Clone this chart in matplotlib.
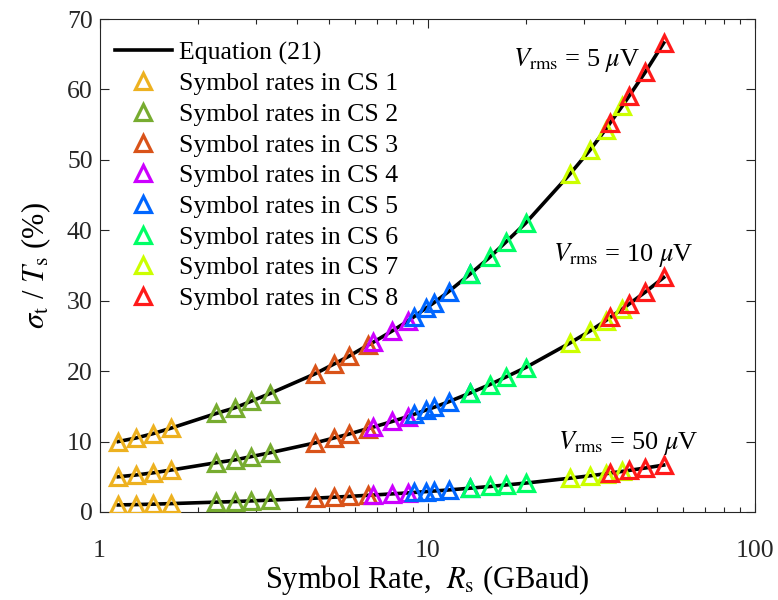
import numpy as np
import matplotlib
matplotlib.use('Agg')
import matplotlib.pyplot as plt

plt.rcParams['font.family'] = 'Liberation Serif'
plt.rcParams['mathtext.fontset'] = 'stix'

# symbol rates (GBaud) used in each channel spacing case
cs_rates = [
    [1.14, 1.29, 1.45, 1.65],
    [2.27, 2.59, 2.89, 3.30],
    [4.53, 5.18, 5.75, 6.58],
    [6.83, 7.80, 8.70],
    [9.08, 9.86, 10.45, 11.6, 13.5],
    [13.5, 15.5, 17.4, 19.9],
    [27.2, 31.3, 34.9, 39.2],
    [36.1, 41.1, 46.2, 52.5],
]

# sigma_t / T_s (%) at each rate, one list per Vrms
jitter_5uv = [
    [10.0, 10.5, 11.1, 11.9],
    [14.0, 14.8, 15.7, 16.8],
    [19.6, 21.0, 22.1, 23.7],
    [24.1, 25.7, 27.1],
    [27.7, 28.9, 29.7, 31.3, 33.8],
    [33.8, 36.2, 38.4, 41.0],
    [48.0, 51.4, 54.3, 57.6],
    [55.3, 59.0, 62.5, 66.6],
]
jitter_10uv = [
    [5.0, 5.25, 5.55, 5.95],
    [7.0, 7.4, 7.85, 8.4],
    [9.8, 10.5, 11.05, 11.85],
    [12.05, 12.85, 13.55],
    [13.85, 14.45, 14.85, 15.65, 16.9],
    [16.9, 18.1, 19.2, 20.5],
    [24.0, 25.7, 27.15, 28.8],
    [27.65, 29.5, 31.25, 33.3],
]
jitter_50uv = [
    [1.0, 1.05, 1.11, 1.19],
    [1.4, 1.48, 1.57, 1.68],
    [1.96, 2.1, 2.21, 2.37],
    [2.41, 2.57, 2.71],
    [2.77, 2.89, 2.97, 3.13, 3.38],
    [3.38, 3.62, 3.84, 4.1],
    [4.8, 5.14, 5.43, 5.76],
    [5.53, 5.9, 6.25, 6.66],
]

cs_labels = ['Symbol rates in CS %d' % (i + 1) for i in range(8)]
cs_colors = ['#EDB120', '#77AC30', '#D95319', '#CC00FF',
             '#0066FF', '#00FF66', '#CCFF00', '#FF1A1A']

vrms_labels = [r'$V_{\rm rms}$ = 5 $\mu$V', r'$V_{\rm rms}$ = 10 $\mu$V',
               r'$V_{\rm rms}$ = 50 $\mu$V']
label_pos = [(18.2, 63.3), (24.1, 35.6), (25.0, 9.0)]

fig = plt.figure(figsize=(7.78, 6.0), dpi=100)
ax = fig.add_axes([0.128, 0.1467, 0.843, 0.8216])

axis_col = '#262626'
curves = [jitter_5uv, jitter_10uv, jitter_50uv]

for n, curve in enumerate(curves):
    xs = np.concatenate([np.array(r) for r in cs_rates])
    ys = np.concatenate([np.array(v) for v in curve])
    order = np.argsort(xs, kind='stable')
    ax.plot(xs[order], ys[order], color='black', lw=2.6, zorder=2,
            label='Equation (21)' if n == 0 else None)

for n, curve in enumerate(curves):
    for i in range(8):
        ax.plot(cs_rates[i], curve[i], linestyle='none', marker='^',
                markersize=11.5, markerfacecolor='none', markeredgewidth=2.3,
                markeredgecolor=cs_colors[i], zorder=3,
                label=cs_labels[i] if n == 0 else None)

for txt, (x, y) in zip(vrms_labels, label_pos):
    ax.text(x, y, txt, fontsize=19, va='baseline', ha='left')

ax.set_xscale('log')
ax.set_xlim(1, 100)
ax.set_ylim(0, 70)
ax.set_yticks(range(0, 71, 10))
ax.set_xticks([1, 10, 100])
ax.set_xticklabels(['1', '10', '100'])

ax.tick_params(which='both', direction='in', top=True, right=True,
               colors=axis_col, labelsize=18.5)
ax.tick_params(which='major', length=6.5, width=0.8)
ax.tick_params(which='minor', length=3.5, width=0.8)
ax.tick_params(axis='x', pad=20)
ax.tick_params(axis='y', pad=5)
for sp in ax.spines.values():
    sp.set_color(axis_col)
    sp.set_linewidth(0.8)

ax.set_xlabel(r'Symbol Rate,  $R_{\rm s}$ (GBaud)', fontsize=22, labelpad=1)
ax.set_ylabel(r'$\sigma_{\rm t}$ / $T_{\rm s}$ (%)', fontsize=22, labelpad=10)

leg = ax.legend(loc='upper left', frameon=False, fontsize=18.5,
                handlelength=2.2, handletextpad=0.3, labelspacing=0.3,
                borderpad=0, borderaxespad=0, markerscale=1.0,
                bbox_to_anchor=(0.0236, 0.955))

fig.savefig('out.png', dpi=100)
